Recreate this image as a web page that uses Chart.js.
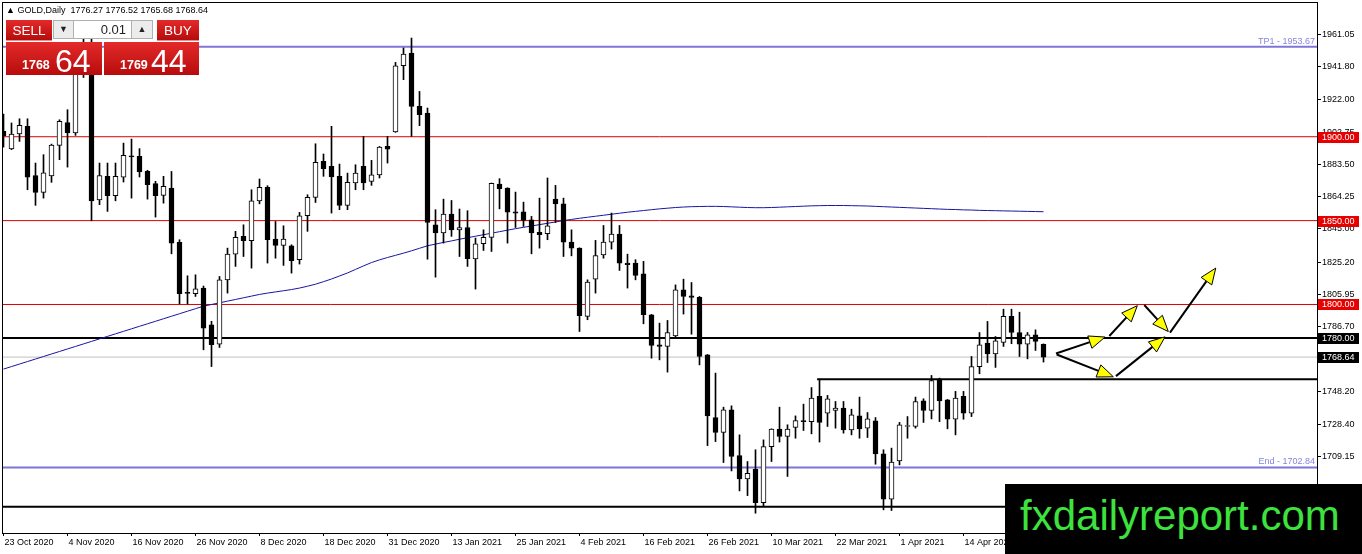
<!DOCTYPE html>
<html lang="en">
<head>
  <meta charset="UTF-8">
  <title>GOLD, Daily</title>
  <script src="https://cdn.jsdelivr.net/npm/chart.js"></script>
  <style>
    body { margin: 0; background: #fff; font-family: "Liberation Sans", Arial, sans-serif; }
    #wrap { position: relative; width: 1362px; height: 554px; overflow: hidden; }
    canvas { position: absolute; left: 0; top: 0; }
    .abs { position: absolute; }
    #hdr { left: 6px; top: 5px; font-size: 9px; white-space: pre; color: #000; }
    .red { background: linear-gradient(#e42a2a, #b70c0c); color: #fff; }
    .btn { top: 20px; height: 21px; font-size: 13.5px; text-align: center; line-height: 21px; border-bottom: 1px solid #f08a8a; box-sizing: border-box; }
    .price { top: 42px; height: 33px; }
    .small { position: absolute; top: 16px; font-size: 12.5px; font-weight: bold; }
    .big { position: absolute; top: 1px; font-size: 32px; }
    .lot { top: 20px; height: 19px; background: #ececec; border: 1px solid #b0b0b0; box-sizing: border-box; font-size: 9px; text-align: center; line-height: 17px; color: #222; }
    #wm { left: 1005px; top: 484px; width: 357px; height: 70px; background: #000; }
    #wm span { position: absolute; left: 15px; top: 8px; font-size: 42px; color: #3ee23e; white-space: nowrap; }
  </style>
</head>
<body>
<div id="wrap">
  <canvas id="chart" width="1362" height="554"></canvas>

  <div id="hdr" class="abs">▲ GOLD,Daily  1776.27 1776.52 1765.68 1768.64</div>

  <!-- one click trading panel -->
  <div class="abs btn red" style="left:6px;width:46px;">SELL</div>
  <div class="abs lot" style="left:53px;width:21px;">▼</div>
  <div class="abs lot" style="left:73px;width:59px;background:#fff;text-align:right;padding-right:5px;font-size:13px;">0.01</div>
  <div class="abs lot" style="left:131px;width:22px;">▲</div>
  <div class="abs btn red" style="left:157px;width:42px;">BUY</div>
  <div class="abs price red" style="left:6px;width:96px;">
    <span class="small" style="left:16px;">1768</span><span class="big" style="left:49px;">64</span>
  </div>
  <div class="abs price red" style="left:104px;width:95px;">
    <span class="small" style="left:16px;">1769</span><span class="big" style="left:47px;">44</span>
  </div>

  <div id="wm" class="abs"><span>fxdailyreport.com</span></div>
</div>

<script>
  // daily bars, 23 Oct 2020 .. 28 Apr 2021 (bar index = position)
  const opens = [1903.2,1892.7,1901.6,1906.2,1876.9,1866.8,1876.7,1894.8,1908.5,1902.2,
    1948.0,1951.0,1862.4,1876.4,1864.8,1875.9,1888.3,1888.3,1879.4,1872.0,
    1865.0,1869.4,1837.0,1806.8,1806.4,1809.8,1787.9,1776.4,1814.7,1830.0,
    1840.6,1838.0,1861.8,1869.8,1839.0,1835.2,1835.0,1826.7,1852.9,1863.8,
    1885.3,1882.3,1876.4,1859.1,1872.4,1882.3,1873.4,1877.3,1894.2,1902.8,
    1942.3,1949.9,1918.1,1914.1,1847.5,1842.6,1853.9,1844.5,1845.9,1827.1,
    1836.2,1840.0,1871.8,1869.4,1855.3,1855.3,1850.5,1843.0,1842.2,1862.8,
    1860.0,1837.2,1833.6,1792.9,1815.1,1829.6,1837.2,1842.0,1824.7,1824.7,
    1818.3,1793.9,1776.0,1775.0,1781.3,1808.8,1805.2,1804.2,1770.0,1732.6,
    1723.7,1737.2,1710.0,1696.1,1701.8,1681.9,1715.3,1725.7,1721.3,1726.7,
    1730.3,1730.2,1745.2,1735.2,1736.8,1738.2,1725.3,1733.6,1726.3,1730.7,
    1711.0,1683.9,1706.8,1727.3,1727.3,1742.6,1736.8,1755.5,1743.2,1731.6,
    1745.2,1735.2,1763.0,1777.0,1770.6,1777.4,1792.9,1783.3,1776.3,1781.9,
    1776.27];
  const highs = [1913.5,1908.2,1910.7,1910.7,1884.3,1889.3,1895.6,1910.1,1916.1,1951.0,
    1960.0,1965.5,1884.3,1884.3,1884.3,1896.2,1898.6,1892.9,1880.0,1873.4,
    1876.4,1879.3,1838.6,1817.1,1817.7,1811.0,1790.0,1816.7,1833.6,1843.6,
    1847.5,1868.4,1874.8,1870.8,1849.5,1846.9,1835.6,1854.9,1865.4,1895.8,
    1889.7,1906.2,1883.7,1878.3,1883.3,1900.2,1885.9,1894.2,1900.2,1944.3,
    1952.9,1958.8,1927.0,1917.1,1856.5,1862.8,1862.0,1856.9,1855.9,1839.6,
    1844.5,1872.4,1875.0,1869.6,1867.0,1861.0,1852.5,1863.4,1875.4,1871.0,
    1863.4,1844.5,1833.8,1814.7,1838.2,1847.1,1854.5,1847.1,1830.0,1826.7,
    1825.7,1794.1,1788.9,1790.5,1811.7,1815.1,1813.1,1804.8,1770.2,1759.1,
    1738.8,1739.6,1722.3,1706.4,1713.4,1719.3,1725.9,1738.8,1728.3,1733.6,
    1740.6,1750.5,1755.5,1745.8,1742.2,1742.2,1737.6,1744.8,1735.6,1732.6,
    1713.4,1714.4,1729.7,1733.2,1744.8,1743.8,1757.7,1756.1,1743.4,1748.2,
    1748.2,1769.0,1783.3,1789.9,1780.9,1797.2,1797.2,1795.4,1783.3,1784.9,
    1776.52];
  const lows = [1893.8,1892.3,1897.2,1868.4,1859.1,1863.4,1872.8,1886.3,1881.9,1900.8,
    1935.3,1849.9,1859.5,1855.5,1861.8,1873.0,1863.4,1876.0,1862.8,1852.1,
    1860.4,1830.2,1800.4,1800.4,1804.8,1773.0,1763.0,1774.4,1806.8,1822.7,
    1828.6,1821.7,1860.0,1824.7,1827.6,1823.3,1818.7,1824.1,1843.6,1860.8,
    1876.4,1854.5,1856.5,1856.5,1868.4,1868.4,1871.0,1875.4,1884.3,1902.6,
    1934.0,1900.2,1906.6,1827.0,1816.3,1836.6,1840.6,1828.6,1822.7,1809.2,
    1832.2,1831.6,1857.0,1836.6,1845.9,1846.5,1830.2,1833.6,1838.6,1848.9,
    1828.6,1829.0,1783.9,1790.9,1806.8,1827.6,1833.0,1820.3,1809.8,1814.7,
    1788.5,1768.0,1767.0,1759.7,1780.5,1794.3,1782.3,1764.0,1715.9,1718.3,
    1705.8,1700.8,1688.9,1686.1,1675.6,1679.6,1706.4,1718.0,1697.5,1720.3,
    1724.9,1722.9,1718.0,1727.3,1726.3,1723.3,1722.3,1720.3,1720.7,1704.8,
    1677.6,1677.2,1704.4,1720.3,1726.3,1729.7,1731.8,1730.2,1725.9,1722.3,
    1731.6,1733.2,1758.7,1765.4,1762.5,1775.0,1776.6,1769.0,1767.6,1772.6,
    1765.68];
  const closes = [1900.6,1901.6,1906.8,1875.9,1866.8,1878.5,1895.0,1909.1,1902.2,1948.0,
    1951.0,1861.8,1876.9,1864.8,1876.4,1888.9,1888.0,1879.0,1871.4,1864.8,
    1870.4,1836.6,1806.4,1806.6,1809.4,1785.9,1776.0,1814.7,1830.0,1840.0,
    1838.0,1861.8,1869.8,1838.6,1835.2,1839.0,1826.1,1852.9,1863.8,1884.7,
    1880.9,1876.0,1859.1,1872.8,1878.3,1872.4,1877.3,1893.8,1892.6,1942.3,
    1949.3,1918.1,1913.1,1848.9,1842.6,1853.9,1844.5,1845.9,1827.3,1836.2,
    1840.0,1872.2,1869.0,1855.1,1854.5,1850.1,1842.6,1841.6,1846.9,1859.9,
    1837.2,1833.6,1793.3,1813.3,1829.2,1837.2,1842.0,1824.7,1823.7,1817.3,
    1793.9,1775.6,1775.0,1783.3,1808.8,1804.8,1804.2,1769.0,1733.6,1723.7,
    1737.2,1709.4,1696.1,1699.4,1681.9,1715.3,1725.7,1721.3,1725.7,1730.8,
    1730.2,1744.2,1729.7,1743.8,1738.2,1725.3,1734.2,1725.9,1731.9,1711.0,
    1683.9,1706.0,1728.3,1727.4,1742.2,1736.8,1754.7,1742.6,1731.6,1744.2,
    1735.2,1763.0,1776.0,1770.6,1778.4,1792.9,1783.3,1776.4,1781.9,1778.0,
    1768.64];
  // moving average (blue line)
  const ma = [1761.5,1763.0,1764.5,1766.0,1767.5,1769.0,1770.5,1772.0,1773.5,1775.0,
    1776.5,1778.0,1779.5,1781.0,1782.5,1784.0,1785.5,1787.0,1788.5,1790.0,
    1791.5,1793.0,1794.5,1796.0,1797.5,1799.0,1800.0,1801.0,1802.0,1803.0,
    1804.0,1805.0,1806.0,1806.8,1807.5,1808.2,1808.9,1809.8,1810.9,1812.1,
    1813.6,1815.2,1817.0,1818.8,1820.9,1823.0,1825.0,1826.6,1828.0,1829.3,
    1830.6,1832.0,1833.5,1835.0,1836.0,1837.0,1837.9,1838.9,1839.8,1840.7,
    1841.6,1842.5,1843.4,1844.3,1845.2,1846.0,1846.8,1847.6,1848.4,1849.2,
    1850.0,1850.7,1851.4,1852.0,1852.6,1853.2,1853.8,1854.4,1855.0,1855.5,
    1856.0,1856.5,1857.0,1857.4,1857.8,1858.1,1858.3,1858.4,1858.5,1858.5,
    1858.4,1858.2,1858.0,1857.8,1857.7,1857.7,1857.8,1858.0,1858.2,1858.4,
    1858.6,1858.8,1858.9,1859.0,1859.0,1859.0,1858.9,1858.8,1858.7,1858.5,
    1858.3,1858.1,1857.9,1857.7,1857.5,1857.3,1857.1,1856.9,1856.7,1856.6,
    1856.4,1856.3,1856.1,1856.0,1855.9,1855.8,1855.7,1855.6,1855.5,1855.4,
    1855.3];

  const tickIdx = [0, 8, 16, 24, 32, 40, 48, 56, 64, 72, 80, 88, 96, 104, 112, 120];
  const tickLabels = ['23 Oct 2020', '4 Nov 2020', '16 Nov 2020', '26 Nov 2020', '8 Dec 2020',
    '18 Dec 2020', '31 Dec 2020', '13 Jan 2021', '25 Jan 2021', '4 Feb 2021', '16 Feb 2021',
    '26 Feb 2021', '10 Mar 2021', '22 Mar 2021', '1 Apr 2021', '14 Apr 2021'];
  const priceTicks = [1961.05, 1941.80, 1922.00, 1902.75, 1883.50, 1864.25, 1845.00, 1825.20,
    1805.95, 1786.70, 1767.45, 1748.20, 1728.40, 1709.15];

  // horizontal levels drawn on the chart
  const redLevels = [1900, 1850, 1800];
  const resistance = 1780;
  const lastPrice = 1768.64;
  const support = 1755.5;     // starts at bar 102
  const supportFrom = 101.7;
  const lowLine = 1679.4;
  const tp1 = 1953.67;
  const endLevel = 1702.84;

  // arrows: [fromBar, fromPrice, toBar, toPrice]
  const arrows = [
    [131.56, 1770.8, 137.69, 1780.6],
    [138.23, 1781.2, 141.73, 1799.3],
    [142.6, 1799.7, 145.6, 1783.9],
    [145.81, 1783.2, 151.53, 1821.7],
    [131.65, 1770.2, 138.73, 1756.9],
    [139.06, 1757.3, 145.19, 1780.7]
  ];

  const XMAX = 170;
  const idx = opens.map((_, i) => i);
  const bull = idx.map(i => closes[i] >= opens[i]);

  function hline(y, from, color, width) {
    return {
      type: 'line', data: [{ x: from, y: y }, { x: XMAX, y: y }],
      borderColor: color, borderWidth: width, pointRadius: 0, order: 5
    };
  }

  const framePlugin = {
    id: 'frame',
    afterDatasetsDraw(chart) {
      const { ctx, chartArea: a, scales: { x, y } } = chart;
      ctx.save();
      // arrows
      arrows.forEach(([x0, y0, x1, y1]) => {
        const px0 = x.getPixelForValue(x0), py0 = y.getPixelForValue(y0);
        const px1 = x.getPixelForValue(x1), py1 = y.getPixelForValue(y1);
        const ang = Math.atan2(py1 - py0, px1 - px0);
        const len = 16, half = 6.5;
        const bx = px1 - len * Math.cos(ang), by = py1 - len * Math.sin(ang);
        ctx.strokeStyle = '#000';
        ctx.lineWidth = 2;
        ctx.beginPath(); ctx.moveTo(px0, py0); ctx.lineTo(bx, by); ctx.stroke();
        ctx.beginPath();
        ctx.moveTo(px1, py1);
        ctx.lineTo(bx + half * Math.sin(ang), by - half * Math.cos(ang));
        ctx.lineTo(bx - half * Math.sin(ang), by + half * Math.cos(ang));
        ctx.closePath();
        ctx.fillStyle = '#ffff00';
        ctx.fill();
        ctx.lineWidth = 1;
        ctx.stroke();
      });
      // level captions
      ctx.font = '9px "Liberation Sans", Arial, sans-serif';
      ctx.fillStyle = '#8585dc';
      ctx.textAlign = 'right';
      ctx.textBaseline = 'bottom';
      ctx.fillText('TP1 - ' + tp1.toFixed(2), a.right - 2, y.getPixelForValue(tp1) - 1);
      ctx.fillText('End - ' + endLevel.toFixed(2), a.right - 2, y.getPixelForValue(endLevel) - 1);
      // frame
      ctx.strokeStyle = '#000';
      ctx.lineWidth = 1;
      ctx.strokeRect(a.left + 0.5, a.top + 0.5, a.right - a.left, a.bottom - a.top);
      ctx.restore();
    },
    afterDraw(chart) {
      const { ctx, chartArea: a, scales: { y } } = chart;
      const boxes = redLevels.map(v => [v, '#e60000']).concat([[resistance, '#000'], [lastPrice, '#000']]);
      ctx.save();
      ctx.font = '9px "Liberation Sans", Arial, sans-serif';
      ctx.textBaseline = 'middle';
      ctx.textAlign = 'left';
      boxes.forEach(([v, bg]) => {
        const py = Math.round(y.getPixelForValue(v));
        ctx.fillStyle = bg;
        ctx.fillRect(a.right + 1, py - 5, 41, 11);
        ctx.fillStyle = '#fff';
        ctx.fillText(v.toFixed(2), a.right + 5, py + 0.5);
      });
      ctx.restore();
    }
  };

  Chart.defaults.font.family = '"Liberation Sans", Arial, sans-serif';
  Chart.defaults.font.size = 9;
  Chart.defaults.color = '#000';

  new Chart(document.getElementById('chart'), {
    type: 'bar',
    data: {
      datasets: [
        {
          // candle bodies
          data: idx.map(i => ({ x: i, y: [opens[i], closes[i]] })),
          backgroundColor: bull.map(b => b ? '#fff' : '#000'),
          borderColor: '#000',
          borderWidth: 1,
          borderSkipped: false,
          grouped: false,
          barThickness: 5,
          minBarLength: 1,
          order: 0
        },
        {
          // wicks
          data: idx.map(i => ({ x: i, y: [lows[i], highs[i]] })),
          backgroundColor: '#000',
          borderWidth: 0,
          grouped: false,
          barThickness: 1,
          order: 1
        },
        {
          type: 'line',
          data: idx.map(i => ({ x: i, y: ma[i] })),
          borderColor: '#1616a0', borderWidth: 1, pointRadius: 0, order: 3
        },
        ...redLevels.map(v => hline(v, -1, '#e00000', 1)),
        hline(resistance, -1, '#000', 2),
        hline(lastPrice, -1, '#c0c0c0', 1),
        hline(support, supportFrom, '#000', 2),
        hline(lowLine, -1, '#000', 2),
        hline(tp1, -1, '#7f74d8', 2),
        hline(endLevel, -1, '#7f74d8', 2)
      ]
    },
    options: {
      responsive: false,
      animation: false,
      layout: { padding: { left: 2, top: 2, right: 0, bottom: 0 } },
      plugins: { legend: { display: false }, tooltip: { enabled: false } },
      scales: {
        x: {
          type: 'linear',
          offset: false,
          min: -0.1875,
          max: 164.1875,
          afterFit: s => { s.height = 21; s.paddingLeft = 0; s.paddingRight = 0; },
          afterBuildTicks: s => { s.ticks = tickIdx.map(v => ({ value: v })); },
          grid: { offset: false, drawOnChartArea: false, drawTicks: true, tickLength: 3, color: '#000' },
          border: { display: true, color: '#000' },
          ticks: {
            autoSkip: false, maxRotation: 0, align: 'start', padding: 1, labelOffset: 1,
            callback: v => { const k = tickIdx.indexOf(v); return k >= 0 ? tickLabels[k] : ''; }
          }
        },
        y: {
          position: 'right',
          min: 1663.8,
          max: 1980.3,
          afterFit: s => { s.width = 45; s.paddingTop = 0; s.paddingBottom = 0; },
          afterBuildTicks: s => { s.ticks = priceTicks.map(v => ({ value: v })); },
          grid: { drawOnChartArea: false, drawTicks: true, tickLength: 4, color: '#000' },
          border: { display: true, color: '#000' },
          ticks: { padding: 1, callback: v => v.toFixed(2) }
        }
      }
    },
    plugins: [framePlugin]
  });
</script>
</body>
</html>
